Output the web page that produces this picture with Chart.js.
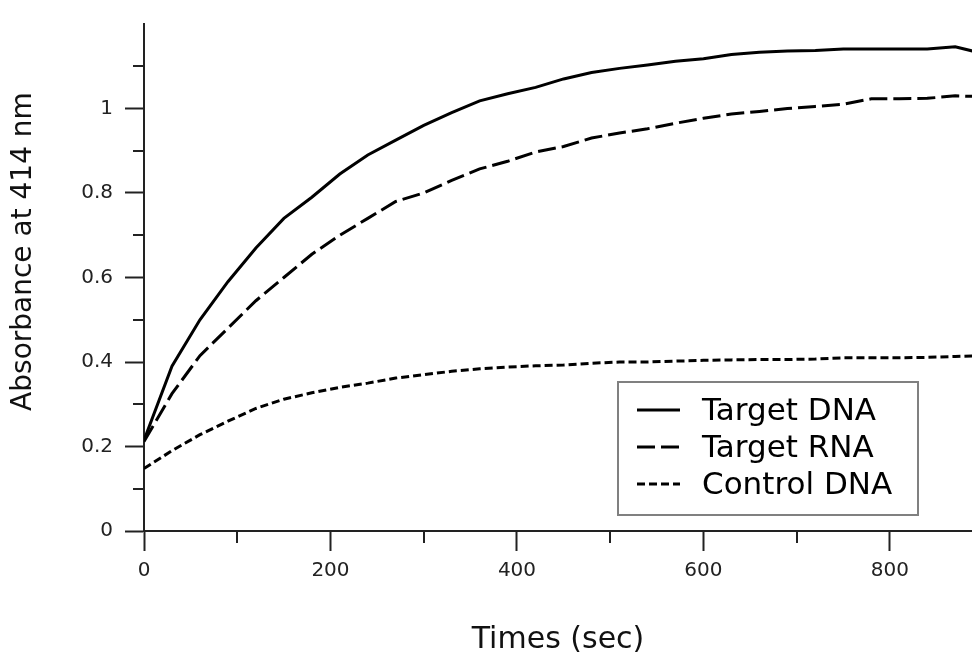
<!DOCTYPE html>
<html>
<head>
<meta charset="utf-8">
<title>Absorbance at 414 nm</title>
<script src="https://cdn.jsdelivr.net/npm/chart.js@4.4.1/dist/chart.umd.min.js"></script>
<style>
  html, body { margin: 0; padding: 0; background: #fff; }
  #wrap { width: 972px; height: 660px; }
</style>
</head>
<body>
<div id="wrap"><canvas id="absChart" width="972" height="660"></canvas></div>
<script>
// data (time in sec, absorbance at 414 nm)
const times = [0, 30, 60, 90, 120, 150, 180, 210, 240, 270, 300, 330, 360, 390, 420, 450,
  480, 510, 540, 570, 600, 630, 660, 690, 720, 750, 780, 810, 840, 870, 900];
const targetDNA = [0.215, 0.39, 0.50, 0.59, 0.67, 0.74, 0.79, 0.845, 0.89, 0.925, 0.96, 0.99,
  1.018, 1.035, 1.05, 1.07, 1.085, 1.095, 1.103, 1.112, 1.118, 1.128, 1.133, 1.136, 1.137,
  1.141, 1.141, 1.141, 1.141, 1.146, 1.13];
const targetRNA = [0.212, 0.325, 0.415, 0.48, 0.545, 0.60, 0.655, 0.70, 0.74, 0.78, 0.80, 0.83,
  0.857, 0.875, 0.897, 0.91, 0.93, 0.942, 0.952, 0.965, 0.977, 0.987, 0.993, 1.0, 1.005,
  1.01, 1.023, 1.023, 1.024, 1.03, 1.028];
const controlDNA = [0.148, 0.19, 0.228, 0.26, 0.29, 0.312, 0.327, 0.34, 0.35, 0.362, 0.37, 0.378,
  0.384, 0.388, 0.391, 0.393, 0.397, 0.40, 0.40, 0.402, 0.404, 0.405, 0.406, 0.406, 0.407,
  0.41, 0.41, 0.41, 0.411, 0.413, 0.415];
const seriesLabels = ['Target DNA', 'Target RNA', 'Control DNA'];

const xTicks = [0, 200, 400, 600, 800];
const xTickLabels = ['0', '200', '400', '600', '800'];
const xMinorTicks = [100, 300, 500, 700];
const yTicks = [0, 0.2, 0.4, 0.6, 0.8, 1];
const yTickLabels = ['0', '0.2', '0.4', '0.6', '0.8', '1'];
const yMinorTicks = [0.1, 0.3, 0.5, 0.7, 0.9, 1.1];
const yTitle = 'Absorbance at 414 nm';

const FONT = '"DejaVu Sans", Verdana, sans-serif';
const AXIS = '#222';

const pts = arr => times.map((t, i) => ({ x: t, y: arr[i] }));

// short ticks between the labelled ones
const minorTickPlugin = {
  id: 'minorTicks',
  afterDraw(chart) {
    const { ctx, scales: { x, y } } = chart;
    ctx.save();
    ctx.strokeStyle = AXIS;
    ctx.lineWidth = 2;
    ctx.beginPath();
    xMinorTicks.forEach(v => {
      const px = Math.round(x.getPixelForValue(v));
      ctx.moveTo(px, x.top); ctx.lineTo(px, x.top + 12);
    });
    yMinorTicks.forEach(v => {
      const py = Math.round(y.getPixelForValue(v));
      ctx.moveTo(y.right, py); ctx.lineTo(y.right - 11, py);
    });
    ctx.stroke();
    ctx.restore();
  }
};

// y title sits a bit above the middle of the axis in the original
const yTitlePlugin = {
  id: 'yTitle',
  afterDraw(chart) {
    const { ctx, chartArea } = chart;
    ctx.save();
    ctx.translate(24, (chartArea.top + chartArea.bottom) / 2 - 26);
    ctx.rotate(-Math.PI / 2);
    ctx.font = '28px ' + FONT;
    ctx.fillStyle = '#111';
    ctx.textAlign = 'center';
    ctx.textBaseline = 'middle';
    ctx.fillText(yTitle, 0, 0);
    ctx.restore();
  }
};

// boxed legend sitting in the lower right of the plot
const boxLegendPlugin = {
  id: 'boxLegend',
  afterDraw(chart) {
    const { ctx, chartArea } = chart;
    const w = 300, h = 133;
    const left = chartArea.right - 54 - w;
    const top = chartArea.bottom - 16 - h;
    ctx.save();
    ctx.fillStyle = '#fff';
    ctx.fillRect(left, top, w, h);
    ctx.strokeStyle = '#808080';
    ctx.lineWidth = 2;
    ctx.strokeRect(left, top, w, h);
    ctx.font = '31px ' + FONT;
    ctx.textBaseline = 'middle';
    ctx.fillStyle = '#000';
    chart.data.datasets.forEach((ds, i) => {
      const cy = top + 28 + i * 37;
      ctx.beginPath();
      ctx.setLineDash(ds.borderDash || []);
      ctx.lineWidth = 3;
      ctx.strokeStyle = '#000';
      ctx.moveTo(left + 19, cy);
      ctx.lineTo(left + 62, cy);
      ctx.stroke();
      ctx.setLineDash([]);
      ctx.fillText(ds.label, left + 84, cy + 2);
    });
    ctx.restore();
  }
};

const lineStyle = { borderColor: '#000', borderWidth: 3, pointRadius: 0, tension: 0, fill: false };

new Chart(document.getElementById('absChart'), {
  type: 'line',
  data: {
    datasets: [
      { ...lineStyle, label: seriesLabels[0], data: pts(targetDNA), borderDash: [] },
      { ...lineStyle, label: seriesLabels[1], data: pts(targetRNA), borderDash: [18, 6] },
      { ...lineStyle, label: seriesLabels[2], data: pts(controlDNA), borderDash: [8, 4] }
    ]
  },
  options: {
    responsive: false,
    animation: false,
    layout: { padding: { top: 17, right: 0, bottom: 0, left: 0 } },
    plugins: { legend: { display: false }, tooltip: { enabled: false } },
    scales: {
      x: {
        type: 'linear',
        min: 0,
        max: 888,
        afterBuildTicks: s => { s.ticks = xTicks.map(v => ({ value: v })); },
        afterFit: s => { s.height = 129; },
        grid: { drawOnChartArea: false, tickLength: 20, tickColor: AXIS, tickWidth: 2 },
        border: { display: true, color: AXIS, width: 2 },
        ticks: {
          padding: 8,
          color: '#222',
          font: { family: FONT, size: 20 },
          maxRotation: 0,
          callback: (v, i) => xTickLabels[i]
        },
        title: {
          display: true,
          text: 'Times (sec)',
          color: '#111',
          font: { family: FONT, size: 30 },
          padding: { top: 0, bottom: 2 }
        }
      },
      y: {
        min: 0,
        max: 1.2,
        afterBuildTicks: s => { s.ticks = yTicks.map(v => ({ value: v })); },
        afterFit: s => { s.width = 144; },
        grid: { drawOnChartArea: false, tickLength: 19, tickColor: AXIS, tickWidth: 2 },
        border: { display: true, color: AXIS, width: 2 },
        ticks: {
          padding: 12,
          color: '#222',
          font: { family: FONT, size: 20 },
          callback: (v, i) => yTickLabels[i]
        }
      }
    }
  },
  plugins: [minorTickPlugin, yTitlePlugin, boxLegendPlugin]
});
</script>
</body>
</html>
